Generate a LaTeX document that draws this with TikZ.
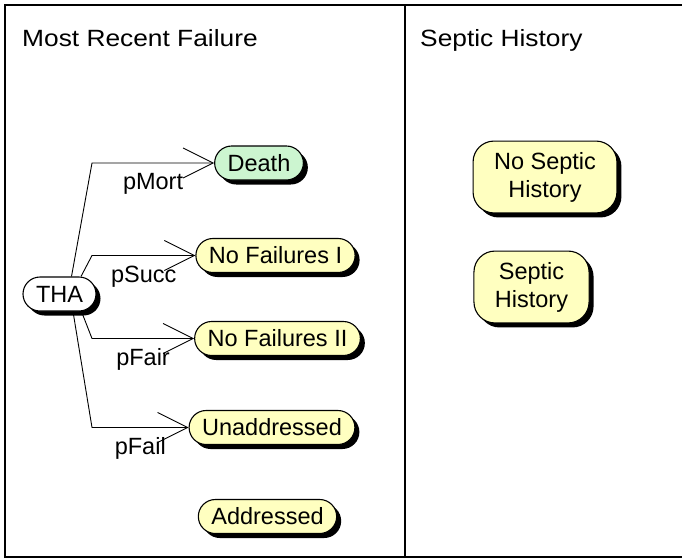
\documentclass[tikz,border=0pt]{standalone}
\usepackage{fontspec}
\setmainfont{Liberation Sans}
\newfontfamily\headfont[FakeStretch=1.12]{Liberation Sans}
\usetikzlibrary{arrows.meta,shadows}
\definecolor{stateyellow}{RGB}{255,255,192}
\definecolor{stategreen}{RGB}{204,245,208}
\tikzset{
  state/.style={draw, line width=1.1pt, fill=stateyellow, rounded corners=17pt,
                minimum height=34pt, inner xsep=13pt, inner ysep=2pt,
                font=\fontsize{23.5}{28}\selectfont,
                drop shadow={shadow xshift=4.5pt, shadow yshift=-4.5pt,
                             fill=black, opacity=1}},
  twoline/.style={state, align=center, rounded corners=21pt,
                  inner xsep=21pt, inner ysep=11pt},
  hdr/.style={anchor=base west, inner sep=0pt,
              font=\headfont\fontsize{23.5}{28}\selectfont},
  lbl/.style={inner sep=0pt, font=\fontsize{23.5}{28}\selectfont},
  branch/.style={line width=0.9pt, -{Straight Barb[length=30pt,width=30pt]}},
  frame/.style={line width=2pt},
}
\begin{document}
\begin{tikzpicture}[x=1pt,y=-1pt]
    \useasboundingbox (0,0) rectangle (682,558);
    % panels
    \draw[frame] (682,5) -- (5,5) -- (5,556.5) -- (682,556.5);
    \draw[frame] (405,5) -- (405,556.5);
    \node[hdr] (mrf) at (22,46.5) {Most Recent Failure};
    \node[hdr] (sh) at (420,46.5) {Septic History};
    % states
    \node[state,fill=white] (tha) at (59.5,294) {THA};
    \node[state,fill=stategreen] (death) at (259,163) {Death};
    \node[state] (nf1) at (275.5,255.5) {No Failures I};
    \node[state] (nf2) at (277.5,338.5) {No Failures II};
    \node[state] (unadr) at (272,427.5) {Unaddressed};
    \node[state] (adr) at (267.5,516.5) {Addressed};
    \node[twoline] (nosep) at (545,177) {No Septic\\History};
    \node[twoline] (sep) at (531.5,287) {Septic\\History};
    % branches
    \coordinate (spine) at (92,0);
    \draw[branch] ([xshift=12pt]tha.north) -- (death.west -| spine)
      -- node[lbl,below=10pt] {pMort} (death.west);
    \draw[branch] ([xshift=21.5pt]tha.north) -- (nf1.west -| spine)
      -- node[lbl,below=10pt] {pSucc} (nf1.west);
    \draw[branch] ([xshift=22pt]tha.south) -- (nf2.west -| spine)
      -- node[lbl,below=10pt] {pFair} (nf2.west);
    \draw[branch] ([xshift=13.5pt]tha.south) -- (unadr.west -| spine)
      -- node[lbl,below=10pt] {pFail} (unadr.west);
\end{tikzpicture}
\end{document}
